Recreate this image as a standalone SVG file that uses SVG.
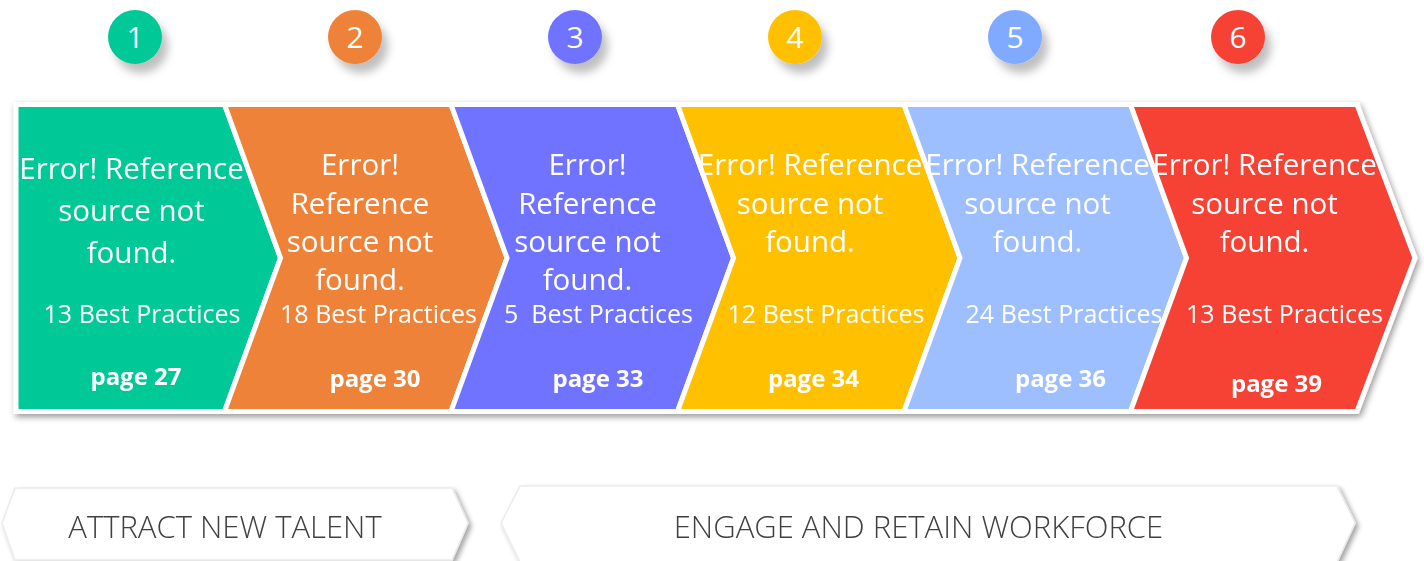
<svg xmlns="http://www.w3.org/2000/svg" width="1424" height="561" viewBox="0 0 1424 561">
<defs>
<filter id="cshadow" x="-50%" y="-50%" width="220%" height="220%">
<feDropShadow dx="6" dy="9" stdDeviation="4" flood-color="#000" flood-opacity="0.25"/>
</filter>
<filter id="bshadow" x="-5%" y="-10%" width="110%" height="125%">
<feDropShadow dx="2" dy="3" stdDeviation="3" flood-color="#000" flood-opacity="0.4"/>
</filter>
<filter id="lshadow" x="-5%" y="-20%" width="110%" height="150%">
<feDropShadow dx="3" dy="3" stdDeviation="2.5" flood-color="#000" flood-opacity="0.35"/>
</filter>
<style>
.num{font-family:"Open Sans","Noto Sans",sans-serif;font-size:30px;fill:#fff;text-anchor:middle}
.chev{stroke:#fff;stroke-width:5;stroke-linejoin:miter}
.t{font-family:"Open Sans","Noto Sans",sans-serif;font-size:29.5px;fill:#fff;text-anchor:middle}
.bp{font-family:"Open Sans","Noto Sans",sans-serif;font-size:25px;fill:#fff;text-anchor:middle}
.pg{font-family:"Open Sans","Noto Sans",sans-serif;font-size:24px;font-weight:bold;fill:#fff;text-anchor:middle}
.ban{fill:#fff;stroke:#ebebeb;stroke-width:1.5}
.bt{font-family:"Open Sans","Noto Sans",sans-serif;font-weight:300;font-size:31px;fill:#404040;text-anchor:middle}
</style>
</defs>
<rect width="1424" height="561" fill="#fff"/>

<g id="circles">
<g id="c1"><circle cx="135" cy="37" r="27" fill="#00C896" filter="url(#cshadow)"/><text class="num" x="135" y="48">1</text></g>
<g id="c2"><circle cx="355" cy="37" r="27" fill="#ED8239" filter="url(#cshadow)"/><text class="num" x="355" y="48">2</text></g>
<g id="c3"><circle cx="575" cy="37" r="27" fill="#7073FF" filter="url(#cshadow)"/><text class="num" x="575" y="48">3</text></g>
<g id="c4"><circle cx="795" cy="37" r="27" fill="#FFC000" filter="url(#cshadow)"/><text class="num" x="795" y="48">4</text></g>
<g id="c5"><circle cx="1015" cy="37" r="27" fill="#80AAFF" filter="url(#cshadow)"/><text class="num" x="1015" y="48">5</text></g>
<g id="c6"><circle cx="1238" cy="37" r="27" fill="#F54235" filter="url(#cshadow)"/><text class="num" x="1238" y="48">6</text></g>
</g>

<g id="process" filter="url(#bshadow)">
<g id="step1">
<polygon class="chev" fill="#00C896" points="16,104.5 224.5,104.5 280.5,258 224.5,411.5 16,411.5"/>
<text class="t" x="131.5" y="179">Error! Reference</text>
<text class="t" x="131.5" y="221">source not</text>
<text class="t" x="131.5" y="263">found.</text>
<text class="bp" x="142" y="323">13 Best Practices</text>
<text class="pg" x="136" y="385">page 27</text>
</g>
<g id="step2">
<polygon class="chev" fill="#ED8239" points="224.5,104.5 451,104.5 507,258 451,411.5 224.5,411.5 280.5,258"/>
<text class="t" x="360" y="175">Error!</text>
<text class="t" x="360" y="213.5">Reference</text>
<text class="t" x="360" y="252">source not</text>
<text class="t" x="360" y="290">found.</text>
<text class="bp" x="378.5" y="323">18 Best Practices</text>
<text class="pg" x="375" y="387">page 30</text>
</g>
<g id="step3">
<polygon class="chev" fill="#7073FF" points="451,104.5 677.5,104.5 733.5,258 677.5,411.5 451,411.5 507,258"/>
<text class="t" x="587.5" y="175">Error!</text>
<text class="t" x="587.5" y="213.5">Reference</text>
<text class="t" x="587.5" y="252">source not</text>
<text class="t" x="587.5" y="290">found.</text>
<text class="bp" x="598.5" y="323" xml:space="preserve">5  Best Practices</text>
<text class="pg" x="598" y="387">page 33</text>
</g>
<g id="step4">
<polygon class="chev" fill="#FFC000" points="677.5,104.5 904,104.5 960,258 904,411.5 677.5,411.5 733.5,258"/>
<text class="t" x="810" y="175">Error! Reference</text>
<text class="t" x="810" y="213.5">source not</text>
<text class="t" x="810" y="252">found.</text>
<text class="bp" x="826" y="323">12 Best Practices</text>
<text class="pg" x="813.5" y="387">page 34</text>
</g>
<g id="step5">
<polygon class="chev" fill="#9DBEFF" points="904,104.5 1130.5,104.5 1186.5,258 1130.5,411.5 904,411.5 960,258"/>
<text class="t" x="1037.5" y="175">Error! Reference</text>
<text class="t" x="1037.5" y="213.5">source not</text>
<text class="t" x="1037.5" y="252">found.</text>
<text class="bp" x="1064" y="323">24 Best Practices</text>
<text class="pg" x="1060.5" y="387">page 36</text>
</g>
<g id="step6">
<polygon class="chev" fill="#F54235" points="1130.5,104.5 1357,104.5 1415,258 1357,411.5 1130.5,411.5 1186.5,258"/>
<text class="t" x="1264.5" y="175">Error! Reference</text>
<text class="t" x="1264.5" y="213.5">source not</text>
<text class="t" x="1264.5" y="252">found.</text>
<text class="bp" x="1284.5" y="323">13 Best Practices</text>
<text class="pg" x="1276.5" y="392">page 39</text>
</g>
</g>

<g id="connectors"></g>

<g id="phase1" filter="url(#lshadow)">
<polygon class="ban" points="15,488 452,488 468,523 452,560 15,560 2,523"/>
<text class="bt" x="225" y="538">ATTRACT NEW TALENT</text>
</g>
<g id="phase2" filter="url(#lshadow)">
<polygon class="ban" points="520,486 1337,486 1355,523 1337,562 520,562 501,523"/>
<text class="bt" x="918.5" y="538">ENGAGE AND RETAIN WORKFORCE</text>
</g>
</svg>
